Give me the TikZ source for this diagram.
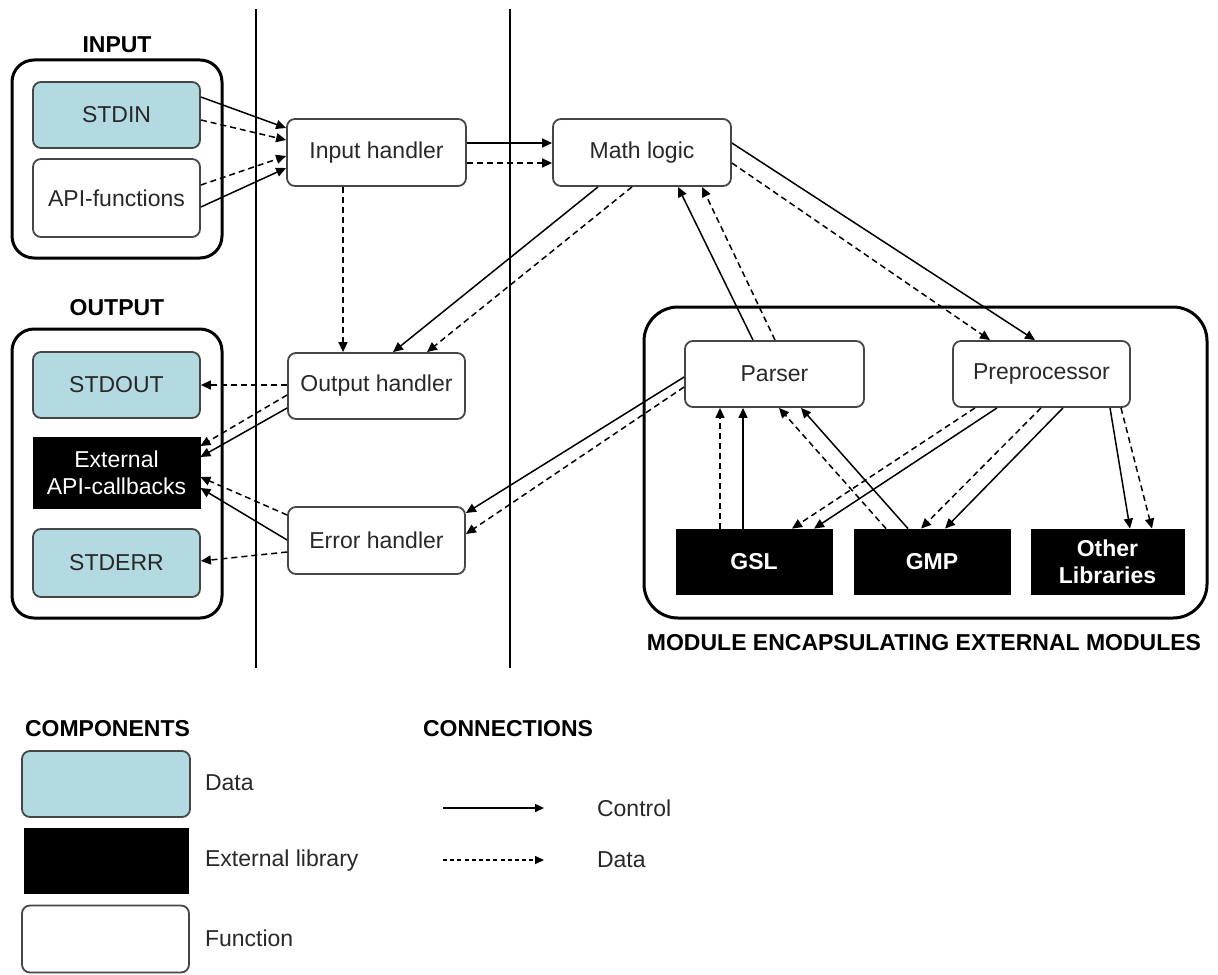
\documentclass[tikz,border=0pt]{standalone}
\usepackage{fontspec}
\setmainfont{Liberation Sans}
\usetikzlibrary{arrows.meta,calc}
\definecolor{datafill}{RGB}{178,218,224}
\definecolor{boxline}{RGB}{70,70,70}
\definecolor{inktext}{RGB}{40,40,40}

\begin{document}
\begin{tikzpicture}[x=0.5pt,y=-0.5pt,
  txt/.style={font=\fontsize{11.5}{13.5}\selectfont, text=inktext},
  hdr/.style={font=\fontsize{11.5}{13.5}\selectfont\bfseries, text=black},
  sz/.style 2 args={minimum width=#1*0.5pt, minimum height=#2*0.5pt},
  func/.style={draw=boxline, line width=0.9pt, rounded corners=4pt, fill=white,
               inner sep=0pt, txt, align=center},
  datab/.style={func, fill=datafill},
  extcall/.style={fill=black, draw=black, inner sep=0pt, align=center,
                  font=\fontsize{11.5}{13.5}\selectfont, text=white},
  extlib/.style={extcall, font=\fontsize{11.5}{13.5}\selectfont\bfseries},
  group/.style={draw=black, line width=1.5pt, rounded corners=11pt, inner sep=0pt},
  divider/.style={line width=1.4pt},
  ctrl/.style={line width=0.75pt, -{Triangle[length=5pt,width=4.5pt]}},
  dat/.style={ctrl, dash pattern=on 3pt off 2pt},
]
\useasboundingbox (0,0) rectangle (1218,974);

% layer separators
\coordinate (d1t) at (256,9);  \coordinate (d1b) at (256,668);
\coordinate (d2t) at (510,9);  \coordinate (d2b) at (510,668);
\draw[divider] (d1t) -- (d1b);
\draw[divider] (d2t) -- (d2b);

% input group
\node[hdr] (inlbl) at (117,45) {INPUT};
\node[group, sz={210}{198}] (inbox) at (117,159) {};
\node[datab, sz={167}{66}] (stdin) at (116.5,115) {STDIN};
\node[func, sz={167}{78}] (api) at (116.5,198) {API-functions};

% output group
\node[hdr] (outlbl) at (117,308) {OUTPUT};
\node[group, sz={210}{289}] (outbox) at (117,473.5) {};
\node[datab, sz={167}{66}] (stdout) at (116.5,385) {STDOUT};
\node[extcall, sz={167}{71}] (extcb) at (116.5,472.5) {External\\API-callbacks};
\node[datab, sz={167}{68}] (stderr) at (116.5,563) {STDERR};

% handlers
\node[func, sz={179}{67}] (ih) at (376.5,152.5) {Input handler};
\node[func, sz={177}{66}] (oh) at (376.5,386) {Output handler};
\node[func, sz={177}{67}] (eh) at (376.5,540.5) {Error handler};

% core
\node[func, sz={178}{67}] (ml) at (642,152.5) {Math logic};

% module wrapping the external libraries
\node[group, rounded corners=17pt, sz={563}{311}] (modbox) at (925.5,462.5) {};
\node[hdr] (modlbl) at (924,643) {MODULE ENCAPSULATING EXTERNAL MODULES};
\node[func, sz={179}{66}] (parser) at (774.5,374) {Parser};
\node[func, sz={177}{66}] (prep) at (1041.5,374) {Preprocessor};
\node[extlib, sz={156}{65}] (gsl) at (754,561.5) {GSL};
\node[extlib, sz={156}{65}] (gmp) at (932,561.5) {GMP};
\node[extlib, sz={153}{65}] (other) at (1107.5,561.5) {Other\\Libraries};

% input side
\draw[ctrl] (stdin.east |- 0,97)  -- (ih.west |- 0,128);
\draw[dat]  (stdin.east |- 0,120) -- (ih.west |- 0,140);
\draw[dat]  (api.east |- 0,185)   -- (ih.west |- 0,156);
\draw[ctrl] (api.east |- 0,207)   -- (ih.west |- 0,168);

% input handler to math logic and output handler
\draw[ctrl] (ih.east |- 0,143) -- (ml.west |- 0,143);
\draw[dat]  (ih.east |- 0,163) -- (ml.west |- 0,163);
\draw[dat]  (ih.south -| 343,0) -- (oh.north -| 343,0);

% math logic to output handler
\draw[ctrl] (ml.south -| 598,0) -- (oh.north -| 393,0);
\draw[dat]  (ml.south -| 632,0) -- (oh.north -| 427,0);

% parser back to math logic
\draw[ctrl] (parser.north -| 753,0) -- (ml.south -| 678,0);
\draw[dat]  (parser.north -| 775,0) -- (ml.south -| 702,0);

% math logic to preprocessor
\draw[ctrl] (ml.east |- 0,143) -- (prep.north -| 1035,0);
\draw[dat]  (ml.east |- 0,163) -- (prep.north -| 990,0);

% parser to error handler
\draw[ctrl] (parser.west |- 0,377) -- (eh.east |- 0,513);
\draw[dat]  (parser.west |- 0,387) -- (eh.east |- 0,534);

% output side
\draw[dat]  (oh.west |- 0,385) -- (stdout.east |- 0,385);
\draw[dat]  (oh.west |- 0,395) -- (extcb.east |- 0,446);
\draw[ctrl] (oh.west |- 0,408) -- (extcb.east |- 0,457);
\draw[dat]  (eh.west |- 0,515) -- (extcb.east |- 0,477);
\draw[ctrl] (eh.west |- 0,540) -- (extcb.east |- 0,488);
\draw[dat]  (eh.west |- 0,552) -- (stderr.east |- 0,561);

% inside the module
\draw[dat]  (gsl.north -| 720,0) -- (parser.south -| 720,0);
\draw[ctrl] (gsl.north -| 743,0) -- (parser.south -| 743,0);
\draw[dat]  (gmp.north -| 886,0) -- (parser.south -| 779,0);
\draw[ctrl] (gmp.north -| 908,0) -- (parser.south -| 801,0);
\draw[dat]  (prep.south -| 975,0)  -- (gsl.north -| 792,0);
\draw[ctrl] (prep.south -| 997,0)  -- (gsl.north -| 814,0);
\draw[dat]  (prep.south -| 1041,0) -- (gmp.north -| 921,0);
\draw[ctrl] (prep.south -| 1063,0) -- (gmp.north -| 945,0);
\draw[ctrl] (prep.south -| 1110,0) -- (other.north -| 1130,0);
\draw[dat]  (prep.south -| 1121,0) -- (other.north -| 1152,0);

% legend: components
\node[hdr, anchor=west] (complbl) at (18,729) {COMPONENTS};
\node[datab, sz={168}{66}] (kdata) at (106,784) {};
\node[extcall, sz={164}{65}] (kext) at (106,860.5) {};
\node[func, sz={167}{67}] (kfunc) at (105.5,939) {};
\node[txt, anchor=west] (kdatat) at (198,783) {Data};
\node[txt, anchor=west] (kextt) at (198,861) {External library};
\node[txt, anchor=west] (kfunct) at (198,938) {Function};

% legend: connections
\node[hdr, anchor=west] (connlbl) at (416,729) {CONNECTIONS};
\coordinate (kc1) at (443,808); \coordinate (kc2) at (544,808);
\coordinate (kd1) at (443,860); \coordinate (kd2) at (544,860);
\draw[line width=0.75pt, -{Triangle[length=4.5pt,width=4pt]}] (kc1) -- (kc2);
\draw[line width=0.75pt, dash pattern=on 2pt off 1.6pt, -{Triangle[length=4.5pt,width=4pt]}] (kd1) -- (kd2);
\node[txt, anchor=west] (kctrlt) at (590,808) {Control};
\node[txt, anchor=west] (kdatt) at (590,860) {Data};
\end{tikzpicture}
\end{document}
